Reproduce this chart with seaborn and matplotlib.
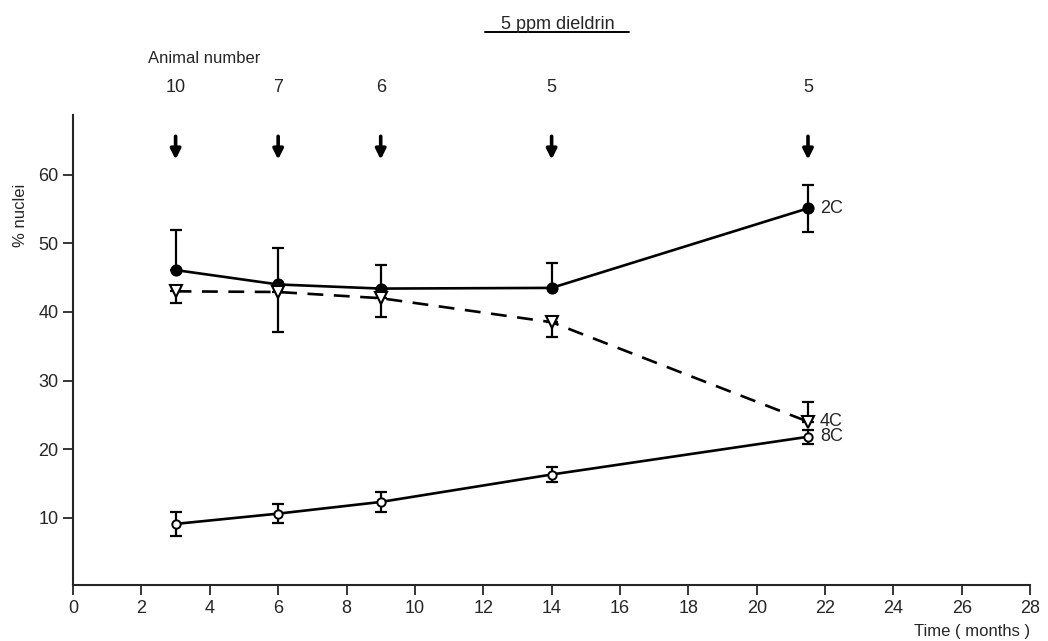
import numpy as np
import matplotlib
matplotlib.use("Agg")
import matplotlib.pyplot as plt
import seaborn as sns
from matplotlib.lines import Line2D

# Datos
meses = [3, 6, 9, 14, 21.5]
animales = ["10", "7", "6", "5", "5"]

nucleos_2c = [46.1, 44.0, 43.4, 43.5, 55.1]
err_2c = [5.8, 5.3, 3.4, 3.6, 3.4]

nucleos_4c = [43.0, 42.9, 42.0, 38.5, 24.0]
err_4c_abajo = [1.7, 5.8, 2.8, 2.2, 0.0]
err_4c_arriba = [0.0, 0.0, 0.0, 0.0, 2.8]

nucleos_8c = [9.1, 10.6, 12.3, 16.3, 21.8]
err_8c = [1.8, 1.4, 1.5, 1.1, 1.0]

etiquetas_serie = ["2C", "4C", "8C"]

sns.set_style("ticks")
plt.rcParams["font.family"] = ["Liberation Sans", "DejaVu Sans"]

fig = plt.figure(figsize=(10.48, 6.41), dpi=100)
ax = fig.add_axes([0.0697, 0.0874, 0.9133, 0.7332])

barras = dict(fmt="none", ecolor="black", elinewidth=1.6, capsize=4,
              capthick=1.6, zorder=2)

# 2C
ax.errorbar(meses, nucleos_2c, yerr=[[0] * 4 + err_2c[-1:], err_2c], **barras)
sns.lineplot(x=meses, y=nucleos_2c, ax=ax, color="black", lw=1.9,
             marker="o", markersize=8, markerfacecolor="black",
             markeredgecolor="black", errorbar=None, zorder=3)

# 4C
ax.errorbar(meses, nucleos_4c, yerr=[err_4c_abajo, err_4c_arriba], **barras)
sns.lineplot(x=meses, y=nucleos_4c, ax=ax, color="black", lw=1.9,
             linestyle=(0, (6, 4)), marker="v", markersize=8,
             markerfacecolor="white", markeredgecolor="black",
             markeredgewidth=1.5, errorbar=None, zorder=3)

# 8C
ax.errorbar(meses, nucleos_8c, yerr=err_8c, **barras)
sns.lineplot(x=meses, y=nucleos_8c, ax=ax, color="black", lw=1.9,
             marker="o", markersize=6, markerfacecolor="white",
             markeredgecolor="black", markeredgewidth=1.4, errorbar=None,
             zorder=3)

# etiquetas de series
for serie, val in zip(etiquetas_serie, [nucleos_2c[-1], nucleos_4c[-1], nucleos_8c[-1]]):
    ax.text(meses[-1] + 0.35, val, serie, fontsize=13, va="center", ha="left")

# numero de animales y flechas
for m, n in zip(meses, animales):
    ax.annotate("", xy=(m, 61.8), xytext=(m, 66.0),
                arrowprops=dict(arrowstyle="-|>,head_width=0.3,head_length=0.6",
                                color="black", lw=2.6),
                annotation_clip=False)
    ax.text(m, 71.5, n, fontsize=13, ha="center", va="bottom", clip_on=False)
ax.text(2.2, 75.8, "Animal number", fontsize=12, ha="left", va="bottom",
        clip_on=False)

# titulo subrayado
fig.text(0.532, 0.975, "5 ppm dieldrin", fontsize=13, ha="center", va="top")
fig.add_artist(Line2D([0.463, 0.600], [0.950, 0.950], color="black", lw=1.4))

ax.set_xlim(0, 28)
ax.set_ylim(0.2, 68.7)
ax.set_xticks(np.arange(0, 29, 2))
ax.set_yticks([10, 20, 30, 40, 50, 60])
ax.tick_params(axis="both", labelsize=13, width=1.3, length=7, direction="out")
ax.set_ylabel("% nuclei", fontsize=12)
ax.yaxis.set_label_coords(-0.047, 0.787)
ax.set_xlabel("")
fig.text(0.983, 0.003, "Time ( months )", fontsize=12, ha="right", va="bottom")

sns.despine(ax=ax)
for s in ["left", "bottom"]:
    ax.spines[s].set_linewidth(1.5)

fig.savefig("out.png", dpi=100)
